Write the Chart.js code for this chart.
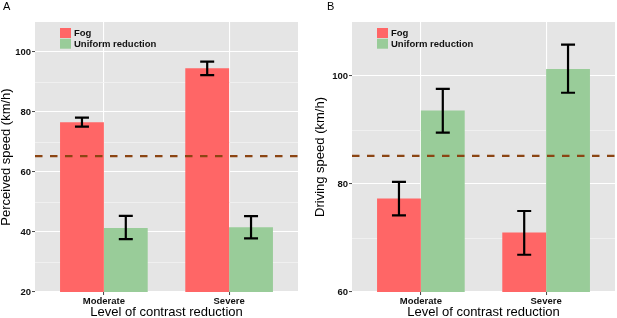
<!DOCTYPE html>
<html><head><meta charset="utf-8">
<script src="https://cdn.jsdelivr.net/npm/chart.js@4.4.0/dist/chart.umd.min.js"></script>
<style>
html,body{margin:0;padding:0;background:#fff;}
#wrap{position:relative;width:617px;height:318px;overflow:hidden;background:#fff;}
.panel{position:absolute;top:0;height:318px;}
#pa{left:0;width:308px;}
#pb{left:308px;width:309px;}
.lbl{position:absolute;top:0;font:11px "Liberation Sans",Arial,sans-serif;color:#000;line-height:12px;}
</style></head><body>
<div id="wrap">
  <div class="panel" id="pa"><canvas id="ca" width="308" height="318"></canvas></div>
  <div class="panel" id="pb"><canvas id="cb" width="309" height="318"></canvas></div>
  <div class="lbl" style="left:3px;">A</div>
  <div class="lbl" style="left:327px;">B</div>
</div>
<script>
// ---- data ----
const categories = ['Moderate', 'Severe'];
const seriesNames = ['Fog', 'Uniform reduction'];
const seriesColors = ['#FF6666', '#99CC99'];

// Panel A: perceived speed
const perceivedFog = [76.6, 94.6];
const perceivedFogLow = [75.1, 92.3];
const perceivedFogHigh = [78.1, 96.8];
const perceivedUniform = [41.3, 41.6];
const perceivedUniformLow = [37.6, 37.9];
const perceivedUniformHigh = [45.4, 45.3];
const perceivedReference = 65.3;
const perceivedTicks = [20, 40, 60, 80, 100];

// Panel B: driving speed
const drivingFog = [77.3, 71.0];
const drivingFogLow = [74.2, 66.9];
const drivingFogHigh = [80.4, 75.0];
const drivingUniform = [93.6, 101.3];
const drivingUniformLow = [89.5, 96.9];
const drivingUniformHigh = [97.6, 105.8];
const drivingReference = 85.2;
const drivingTicks = [60, 80, 100];

const FONT = '"Liberation Sans", Arial, sans-serif';

const bgPlugin = {
  id: 'bg',
  beforeDraw(chart) {
    const {ctx, chartArea: a} = chart;
    ctx.save();
    ctx.fillStyle = '#E5E5E5';
    ctx.fillRect(a.left, a.top, a.right - a.left, a.bottom - a.top);
    ctx.restore();
  }
};

const errPlugin = {
  id: 'errbars',
  afterDatasetsDraw(chart) {
    const {ctx} = chart;
    const ys = chart.scales.y;
    chart.data.datasets.forEach((ds, i) => {
      if (!ds.errLow) return;
      const meta = chart.getDatasetMeta(i);
      meta.data.forEach((el, j) => {
        const x = el.x;
        const yl = ys.getPixelForValue(ds.errLow[j]);
        const yh = ys.getPixelForValue(ds.errHigh[j]);
        ctx.save();
        ctx.strokeStyle = '#000';
        ctx.lineWidth = 2.2;
        ctx.beginPath();
        ctx.moveTo(x, yl); ctx.lineTo(x, yh);
        ctx.moveTo(x - 7, yl); ctx.lineTo(x + 7, yl);
        ctx.moveTo(x - 7, yh); ctx.lineTo(x + 7, yh);
        ctx.stroke();
        ctx.restore();
      });
    });
  }
};

const legendPlugin = {
  id: 'innerLegend',
  afterDraw(chart) {
    const {ctx, chartArea: a} = chart;
    const x0 = a.left + 25, y0 = a.top + 6, rowH = 10.7;
    ctx.save();
    ctx.font = 'bold 9.5px ' + FONT;
    ctx.textBaseline = 'middle';
    ctx.textAlign = 'left';
    chart.data.datasets.filter(d => d.type === 'bar').forEach((ds, i) => {
      ctx.fillStyle = ds.backgroundColor;
      ctx.fillRect(x0, y0 + i * rowH, 11, rowH - 0.7);
      ctx.fillStyle = '#111';
      ctx.fillText(ds.label, x0 + 14, y0 + i * rowH + rowH / 2);
    });
    ctx.restore();
  }
};

function makeChart(id, opts) {
  const toPts = arr => arr.map((v, i) => ({x: i + 1, y: v}));
  const xMin = 0.45, xMax = categories.length + 0.55;
  return new Chart(document.getElementById(id), {
    type: 'bar',
    data: {
      datasets: [
        {
          type: 'line', label: 'ref', order: -1,
          data: [{x: xMin, y: opts.ref}, {x: xMax, y: opts.ref}],
          borderColor: '#8B4513', borderWidth: 2.3, borderDash: [7.5, 7.5],
          pointRadius: 0, fill: false
        },
        {
          type: 'bar', label: seriesNames[0], data: toPts(opts.fog),
          backgroundColor: seriesColors[0], errLow: opts.fogLow, errHigh: opts.fogHigh,
          categoryPercentage: 0.7, barPercentage: 1.0
        },
        {
          type: 'bar', label: seriesNames[1], data: toPts(opts.uni),
          backgroundColor: seriesColors[1], errLow: opts.uniLow, errHigh: opts.uniHigh,
          categoryPercentage: 0.7, barPercentage: 1.0
        }
      ]
    },
    options: {
      responsive: false, animation: false,
      layout: {padding: {left: 0, right: opts.padRight, top: 22, bottom: 0}},
      plugins: {legend: {display: false}, tooltip: {enabled: false}},
      scales: {
        x: {
          type: 'linear', min: xMin, max: xMax, offset: false,
          afterBuildTicks(s) { s.ticks = categories.map((c, i) => ({value: i + 1})); },
          afterFit(s) { s.height = 26; },
          grid: {offset: false, color: '#FFFFFF', lineWidth: 1.1, tickLength: 3, tickColor: '#444', tickWidth: 1},
          border: {display: false},
          ticks: {
            autoSkip: false, maxRotation: 0, padding: 1,
            color: '#111', font: {family: FONT, size: 9.5, weight: 'bold'},
            callback: v => categories[Math.round(v) - 1] || ''
          },
          title: {
            display: true, text: 'Level of contrast reduction', color: '#000',
            font: {family: FONT, size: 13, lineHeight: 1}, padding: {top: 0, bottom: -1}
          }
        },
        y: {
          min: opts.min, max: 110, beginAtZero: false,
          afterFit(s) { s.width = opts.yWidth; },
          grid: {
            color: c => (c.tick && opts.major.includes(c.tick.value)) ? '#FFFFFF' : (c.tick && c.tick.value === 110 ? 'rgba(0,0,0,0)' : '#F2F2F2'),
            lineWidth: c => (c.tick && opts.major.includes(c.tick.value)) ? 1.1 : 0.8,
            tickLength: 3, tickWidth: 1,
            tickColor: c => (c.tick && opts.major.includes(c.tick.value)) ? '#444' : 'rgba(0,0,0,0)'
          },
          border: {display: false},
          ticks: {
            stepSize: 10, autoSkip: false, padding: 1,
            color: '#111', font: {family: FONT, size: 9.5, weight: 'bold'},
            callback: v => opts.major.includes(v) ? String(v) : ''
          },
          title: {
            display: true, text: opts.yTitle, color: '#000',
            font: {family: FONT, size: 13, lineHeight: 1}, padding: {top: opts.yTitlePad, bottom: 0}
          }
        }
      }
    },
    plugins: [bgPlugin, errPlugin, legendPlugin]
  });
}

makeChart('ca', {
  fog: perceivedFog, fogLow: perceivedFogLow, fogHigh: perceivedFogHigh,
  uni: perceivedUniform, uniLow: perceivedUniformLow, uniHigh: perceivedUniformHigh,
  ref: perceivedReference, min: 20, major: perceivedTicks,
  yTitle: 'Perceived speed (km/h)', yWidth: 35, yTitlePad: 0, padRight: 10
});
makeChart('cb', {
  fog: drivingFog, fogLow: drivingFogLow, fogHigh: drivingFogHigh,
  uni: drivingUniform, uniLow: drivingUniformLow, uniHigh: drivingUniformHigh,
  ref: drivingReference, min: 60, major: drivingTicks,
  yTitle: 'Driving speed (km/h)', yWidth: 44, yTitlePad: 6, padRight: 2
});
</script>
</body></html>
